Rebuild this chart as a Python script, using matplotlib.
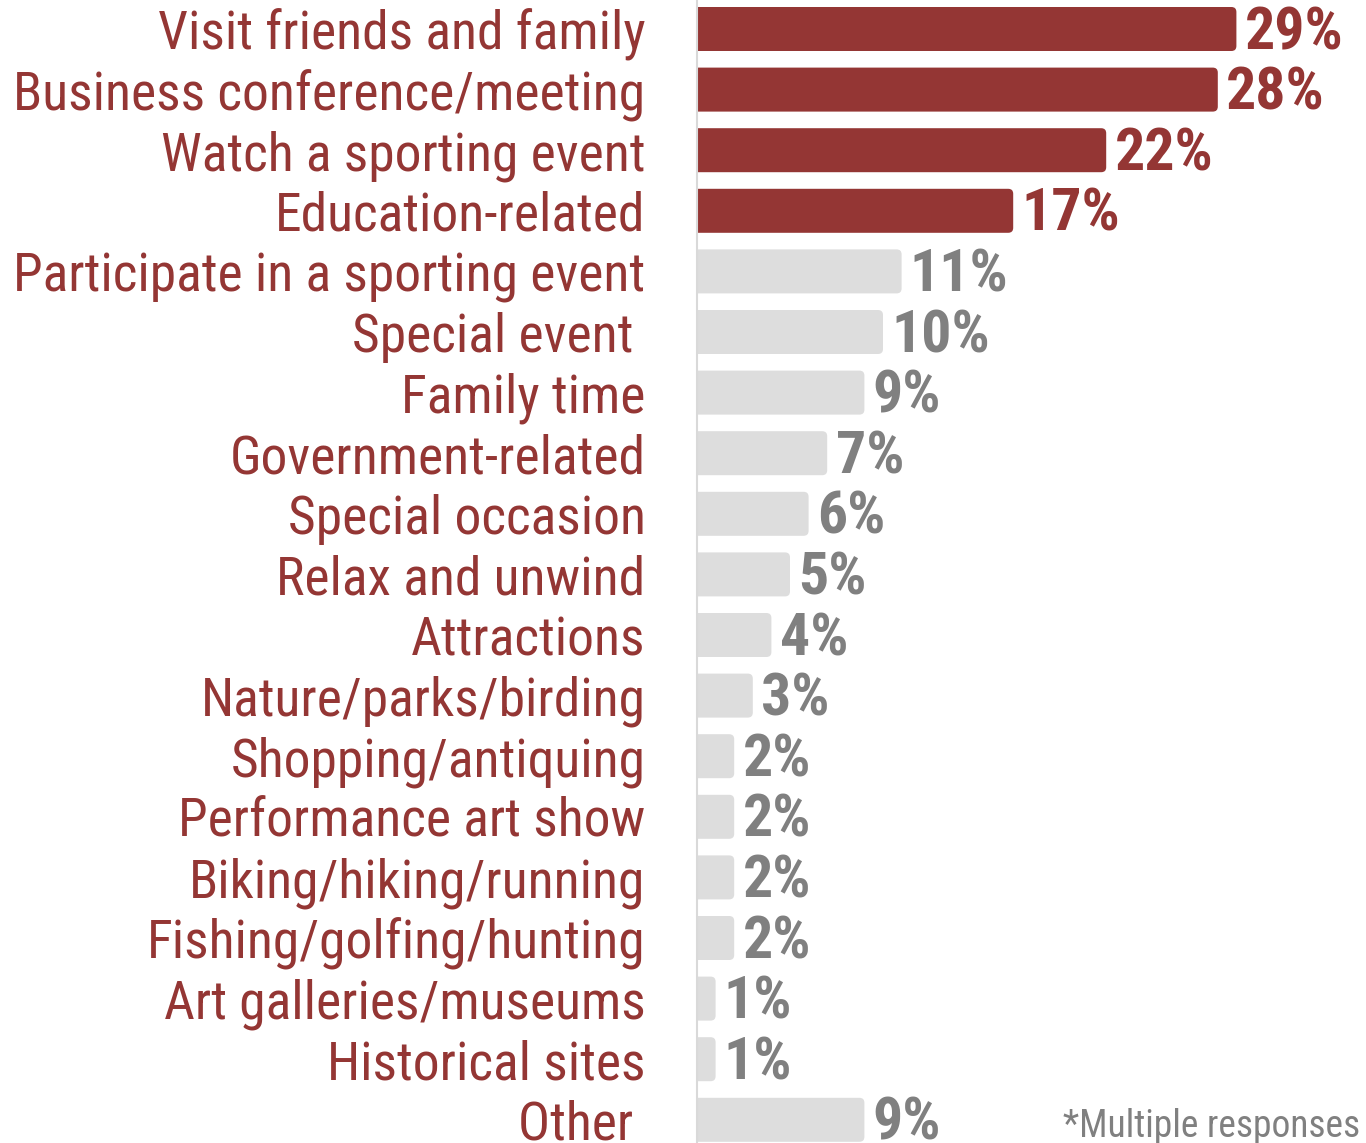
import matplotlib
matplotlib.use("Agg")
import matplotlib.pyplot as plt
from matplotlib import font_manager
from matplotlib.patches import FancyBboxPatch

categories = [
    "Visit friends and family", "Business conference/meeting", "Watch a sporting event",
    "Education-related", "Participate in a sporting event", "Special event ",
    "Family time", "Government-related", "Special occasion", "Relax and unwind",
    "Attractions", "Nature/parks/birding", "Shopping/antiquing", "Performance art show",
    "Biking/hiking/running", "Fishing/golfing/hunting", "Art galleries/museums",
    "Historical sites", "Other ",
]
values = [29, 28, 22, 17, 11, 10, 9, 7, 6, 5, 4, 3, 2, 2, 2, 2, 1, 1, 9]
highlight = 4  # top reasons shown in red

RED = "#943634"
GREY_BAR = "#DDDDDD"
GREY_TEXT = "#808080"

# pick a narrow face if one is available
names = {f.name for f in font_manager.fontManager.ttflist}
family = "DejaVu Sans"
for cand in ["Roboto Condensed", "Liberation Sans Narrow", "DejaVu Sans Condensed", "Roboto"]:
    if cand in names:
        family = cand
        break
plt.rcParams["font.family"] = family

fig = plt.figure(figsize=(13.66, 11.43), dpi=100)
ax = fig.add_axes([697 / 1366, 0, 1 - 697 / 1366, 1])

px_x = 18.6   # pixels per percent
px_y = 60.6   # pixels per row
ax.set_xlim(0, (1366 - 697) / px_x)
ax.set_ylim((1143 - 29) / px_y, -29 / px_y)

bar_h = 44 / px_y
r = 5 / px_x
for i, v in enumerate(values):
    color = RED if i < highlight else GREY_BAR
    box = FancyBboxPatch((-r * 2, i - bar_h / 2), v + r * 2, bar_h,
                         boxstyle=f"round,pad=0,rounding_size={r}",
                         mutation_aspect=px_x / px_y,
                         facecolor=color, edgecolor="none")
    ax.add_patch(box)
    ax.annotate(f"{v}%", (v, i), xytext=(6, -3), textcoords="offset points",
                ha="left", va="center", fontsize=43, fontweight="bold",
                color=RED if i < highlight else GREY_TEXT)

ax.set_yticks(range(len(categories)))
ax.set_yticklabels(categories, fontsize=38.5, color=RED)
ax.tick_params(axis="y", length=0, pad=37)
ax.set_xticks([])

for s in ["top", "right", "bottom"]:
    ax.spines[s].set_visible(False)
ax.spines["left"].set_color("#D9D9D9")
ax.spines["left"].set_linewidth(1.5)

fig.text(0.996, 6 / 1143, "*Multiple responses", ha="right", va="baseline",
         fontsize=27, color=GREY_TEXT)

fig.savefig("out.png", dpi=100)
